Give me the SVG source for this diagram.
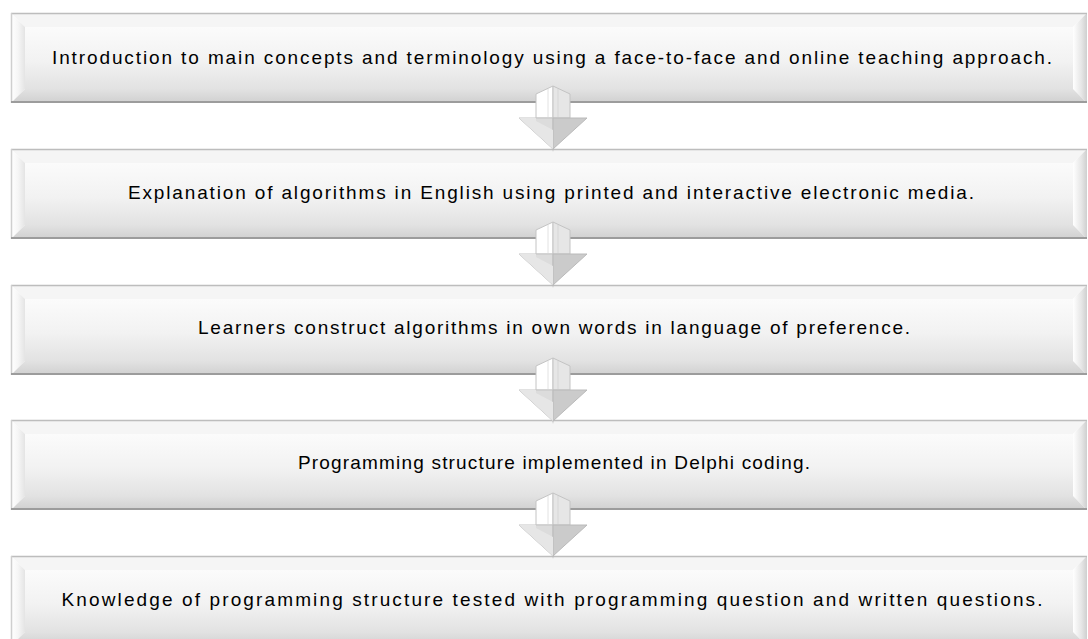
<svg xmlns="http://www.w3.org/2000/svg" xmlns:xlink="http://www.w3.org/1999/xlink" width="1088" height="639" viewBox="0 0 1088 639">
  <style>
    .label { font-family: "Liberation Sans", Arial, sans-serif; font-size: 19px; fill: #000; }
  </style>
  <defs>
    <linearGradient id="faceGrad" x1="0" y1="0" x2="0" y2="1">
      <stop offset="0" stop-color="#fbfbfb"/>
      <stop offset="0.55" stop-color="#f2f2f2"/>
      <stop offset="1" stop-color="#e2e2e2"/>
    </linearGradient>
    <linearGradient id="leftBevel" x1="0" y1="0" x2="1" y2="0">
      <stop offset="0" stop-color="#ffffff"/>
      <stop offset="0.5" stop-color="#f6f6f6"/>
      <stop offset="1" stop-color="#e4e4e4"/>
    </linearGradient>
    <linearGradient id="rightBevel" x1="0" y1="0" x2="1" y2="0">
      <stop offset="0" stop-color="#ffffff"/>
      <stop offset="0.6" stop-color="#e6e6e6"/>
      <stop offset="1" stop-color="#cfcfcf"/>
    </linearGradient>
    <linearGradient id="bottomBevel" x1="0" y1="0" x2="0" y2="1">
      <stop offset="0" stop-color="#e2e2e2"/>
      <stop offset="1" stop-color="#d0d0d0"/>
    </linearGradient>

    <!-- bevelled panel, 1076 x 90, origin at its top-left corner -->
    <symbol id="panel" overflow="visible">
      <polygon points="0,0 1076,0 1062,14 14,14" fill="#f5f5f5"/>
      <polygon points="0,0 14,14 14,76 0,90" fill="url(#leftBevel)"/>
      <polygon points="1076,0 1076,90 1062,76 1062,14" fill="url(#rightBevel)"/>
      <polygon points="0,90 1076,90 1062,76 14,76" fill="url(#bottomBevel)"/>
      <rect x="14" y="14" width="1048" height="62" fill="url(#faceGrad)"/>
      <line x1="0" y1="0.5" x2="1076" y2="0.5" stroke="#bdbdbd" stroke-width="1.5"/>
      <line x1="0.5" y1="0" x2="0.5" y2="90" stroke="#cfcfcf" stroke-width="1.5"/>
      <line x1="0" y1="89" x2="1076" y2="89" stroke="#9c9c9c" stroke-width="2"/>
    </symbol>

    <!-- 3D down arrow, origin at the top centre of the shaft -->
    <symbol id="downArrow" overflow="visible">
      <polygon points="-2,60 0,66 2,60" fill="#bbbbbb" opacity="0.6"/>
      <polygon points="0,0 -17,8 -17,32 0,32" fill="#ffffff" stroke="#c4c4c4" stroke-width="1"/>
      <polygon points="0,0 17,8 17,32 0,32" fill="#e6e6e6" stroke="#c4c4c4" stroke-width="1"/>
      <line x1="-5" y1="3" x2="-5" y2="32" stroke="#e2e2e2" stroke-width="1"/>
      <line x1="5" y1="3" x2="5" y2="32" stroke="#d6d6d6" stroke-width="1"/>
      <polygon points="-34,32 0,32 0,63" fill="#dcdcdc" stroke="#c4c4c4" stroke-width="1"/>
      <polygon points="34,32 0,32 0,63" fill="#cbcbcb" stroke="#bababa" stroke-width="1"/>
      <polygon points="-34,32 -17,32 -17,35 0,44 0,63" fill="#e6e6e6"/>
    </symbol>
  </defs>

  <rect width="1088" height="639" fill="#ffffff"/>

  <g id="step1">
    <use xlink:href="#panel" href="#panel" x="11" y="13"/>
    <text class="label" x="552" y="64" text-anchor="middle" textLength="1000" lengthAdjust="spacing">Introduction to main concepts and terminology using a face-to-face and online teaching approach.</text>
  </g>

  <g id="step2">
    <use xlink:href="#panel" href="#panel" x="11" y="149"/>
    <text class="label" x="551" y="199" text-anchor="middle" textLength="846" lengthAdjust="spacing">Explanation of algorithms in English using printed and interactive electronic media.</text>
  </g>

  <g id="step3">
    <use xlink:href="#panel" href="#panel" x="11" y="285"/>
    <text class="label" x="554" y="334" text-anchor="middle" textLength="712" lengthAdjust="spacing">Learners construct algorithms in own words in language of preference.</text>
  </g>

  <g id="step4">
    <use xlink:href="#panel" href="#panel" x="11" y="420"/>
    <text class="label" x="554" y="469" text-anchor="middle" textLength="512" lengthAdjust="spacing">Programming structure implemented in Delphi coding.</text>
  </g>

  <g id="step5">
    <use xlink:href="#panel" href="#panel" x="11" y="556"/>
    <text class="label" x="552" y="606" text-anchor="middle" textLength="981" lengthAdjust="spacing">Knowledge of programming structure tested with programming question and written questions.</text>
  </g>

  <g id="connectors">
    <use xlink:href="#downArrow" href="#downArrow" x="553" y="86"/>
    <use xlink:href="#downArrow" href="#downArrow" x="553" y="222"/>
    <use xlink:href="#downArrow" href="#downArrow" x="553" y="358"/>
    <use xlink:href="#downArrow" href="#downArrow" x="553" y="493"/>
  </g>
</svg>
